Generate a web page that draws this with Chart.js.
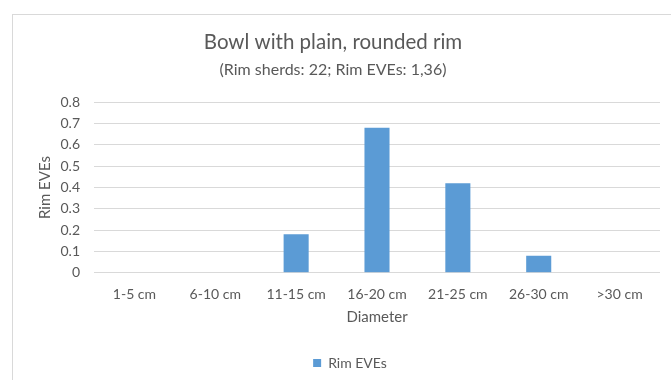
<!DOCTYPE html>
<html>
<head>
<meta charset="utf-8">
<script src="https://cdn.jsdelivr.net/npm/chart.js@4/dist/chart.umd.min.js"></script>
<style>
  html, body { margin: 0; padding: 0; background: #fff; overflow: hidden; }
  #wrap { position: relative; width: 671px; height: 380px; }
  #frame { position: absolute; left: 12px; top: 14px; width: 700px; height: 400px;
           border: 1px solid #d9d9d9; pointer-events: none; }
  canvas { position: absolute; left: 0; top: 0; }
</style>
</head>
<body>
<div id="wrap">
  <canvas id="chart" width="671" height="380"></canvas>
  <div id="frame"></div>
</div>
<script>
// Rim diameter classes and the summed rim EVEs in each
const diameterClasses = ['1-5 cm', '6-10 cm', '11-15 cm', '16-20 cm', '21-25 cm', '26-30 cm', '>30 cm'];
const rimEves = [0, 0, 0.18, 0.68, 0.42, 0.08, 0];
const seriesName = 'Rim EVEs';
const yTicks = [0, 0.1, 0.2, 0.3, 0.4, 0.5, 0.6, 0.7, 0.8];

const chartTitle = 'Bowl with plain, rounded rim';
const chartSubtitle = '(Rim sherds: 22; Rim EVEs: 1,36)';

const textColor = '#595959';
const fontFamily = 'Lato, "Open Sans", sans-serif';

// Nudge the title blocks slightly left and the legend right after layout
const blockOffsets = {
  id: 'blockOffsets',
  afterLayout(chart) {
    chart.boxes.forEach(box => {
      const text = box.options && box.options.text;
      let dx = 0;
      if (text === chartTitle || text === chartSubtitle) dx = -3;
      else if (box === chart.legend) dx = 14;
      if (dx) { box.left += dx; box.right += dx; }
    });
  }
};

new Chart(document.getElementById('chart'), {
  type: 'bar',
  data: {
    labels: diameterClasses,
    datasets: [{
      label: seriesName,
      data: rimEves,
      backgroundColor: '#5b9bd5',
      borderWidth: 0,
      categoryPercentage: 1,
      barPercentage: 0.31
    }]
  },
  plugins: [blockOffsets],
  options: {
    responsive: false,
    animation: false,
    devicePixelRatio: 1,
    layout: { padding: { left: 12, right: 11, top: 0, bottom: 0 } },
    plugins: {
      title: {
        display: true,
        text: chartTitle,
        color: textColor,
        font: { family: fontFamily, size: 20.5, weight: 'normal' },
        padding: { top: 30, bottom: 5.5 }
      },
      subtitle: {
        display: true,
        text: chartSubtitle,
        color: textColor,
        font: { family: fontFamily, size: 16, weight: 'normal' },
        padding: { top: 0, bottom: 23 }
      },
      legend: {
        position: 'bottom',
        labels: {
          color: textColor,
          font: { family: fontFamily, size: 14 },
          boxWidth: 8,
          boxHeight: 8,
          padding: 10
        }
      },
      tooltip: { enabled: false }
    },
    scales: {
      x: {
        afterFit(scale) { scale.height = 73.3; },
        grid: { display: false, drawTicks: false },
        border: { display: false },
        ticks: {
          color: textColor,
          font: { family: fontFamily, size: 14 },
          padding: 13,
          maxRotation: 0
        },
        title: {
          display: true,
          text: 'Diameter',
          color: textColor,
          font: { family: fontFamily, size: 15 },
          padding: { top: 4, bottom: 20 }
        }
      },
      y: {
        min: 0,
        max: 0.8,
        afterBuildTicks(scale) {
          scale.ticks = yTicks.map(v => ({ value: v }));
        },
        afterFit(scale) { scale.width = 82; },
        grid: { color: '#d9d9d9', lineWidth: 1, drawTicks: false },
        border: { display: false },
        ticks: {
          color: textColor,
          font: { family: fontFamily, size: 14 },
          padding: 14,
          callback: v => String(Math.round(v * 10) / 10)
        },
        title: {
          display: true,
          text: 'Rim EVEs',
          color: textColor,
          font: { family: fontFamily, size: 15 },
          padding: { top: 24, bottom: 0 }
        }
      }
    }
  }
});
</script>
</body>
</html>
